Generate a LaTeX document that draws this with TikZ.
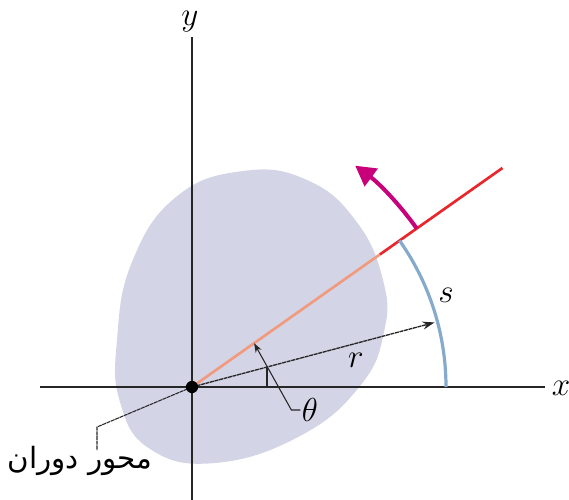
\documentclass[tikz,border=0pt]{standalone}
\usepackage{fontspec}
\newfontfamily\arabicfont[Script=Arabic]{DejaVu Sans}
\TeXXeTstate=1
\usepackage{xcolor}
\usepackage{tikz}
\usetikzlibrary{arrows.meta,calc}
\definecolor{BodyLilac}{HTML}{D3D5E7}
\definecolor{SpokeRed}{HTML}{E8262B}
\definecolor{SpokeSalmon}{HTML}{F29A7E}
\definecolor{ArcBlue}{HTML}{86AACB}
\definecolor{SpinMagenta}{HTML}{C8007A}
\definecolor{AxisInk}{HTML}{262626}

\begin{document}
\begin{tikzpicture}[x=0.75pt,y=-0.75pt,>=Stealth,
  lab/.style={font=\fontsize{24}{28}\selectfont,inner sep=1pt},
  leader/.style={AxisInk,line width=0.8pt}]
  \useasboundingbox (0,0) rectangle (569,500);
  \coordinate (O) at (192,387);
  \fill[BodyLilac] plot[smooth cycle,tension=0.75] coordinates {
    (243,171) (307,180) (356,221) (383,280) (384,332) (360,386)
    (300,436) (215,463) (150,449) (120,402) (117,340) (132,262) (176,197)};
  \draw[AxisInk,line width=1.2pt] (40,387) -- (545,387);
  \draw[AxisInk,line width=1.2pt] (192,500) -- (192,37);
  \node[lab] (xlab) at (561,388) {$x$};
  \node[lab] (ylab) at (190,22) {$y$};
  \draw[SpokeSalmon,line width=2pt] (O) -- ($(O)+(-35.2:230)$) coordinate (edge);
  \draw[SpokeRed,line width=2pt] (edge) -- ($(O)+(-35.2:380)$) coordinate (tipEnd);
  \draw[ArcBlue,line width=2.4pt] ($(O)+(0:254)$) arc[start angle=0,end angle=-35.2,radius=254];
  \draw[SpinMagenta,line width=3pt,-{Triangle[length=15pt,width=16pt]}]
    ($(O)+(-35.2:275)$) arc[start angle=-35.2,end angle=-53.6,radius=275];
  \draw[AxisInk,line width=1pt,dash pattern=on 3pt off 0.5pt,-{Stealth[length=9pt,width=6pt]}]
    (O) -- ($(O)+(-14.9:251)$) coordinate (rEnd);
  \draw[leader] (267,387) -- (267,367);
  \coordinate (thTip) at ($(O)+(-35.2:76)$);
  \node[lab] (thlab) at (310,410) {$\theta$};
  \draw[leader,-{Stealth[length=7pt,width=5pt]}] (thlab.west) -- ++(-9,0) -- (thTip);
  \node[lab] (slab) at (446,295) {$s$};
  \node[lab] (rlab) at (356,360) {$r$};
  \node[font=\fontsize{22}{26}\selectfont,inner sep=1pt] (axislab) at (80,461)
    {\arabicfont\beginR محور دوران\endR};
  \draw[leader,dash pattern=on 3pt off 0.5pt] (O) -- (97,427) coordinate (bend) -- (97,450);
  \fill[black] (O) circle (4.6pt);
\end{tikzpicture}
\end{document}
